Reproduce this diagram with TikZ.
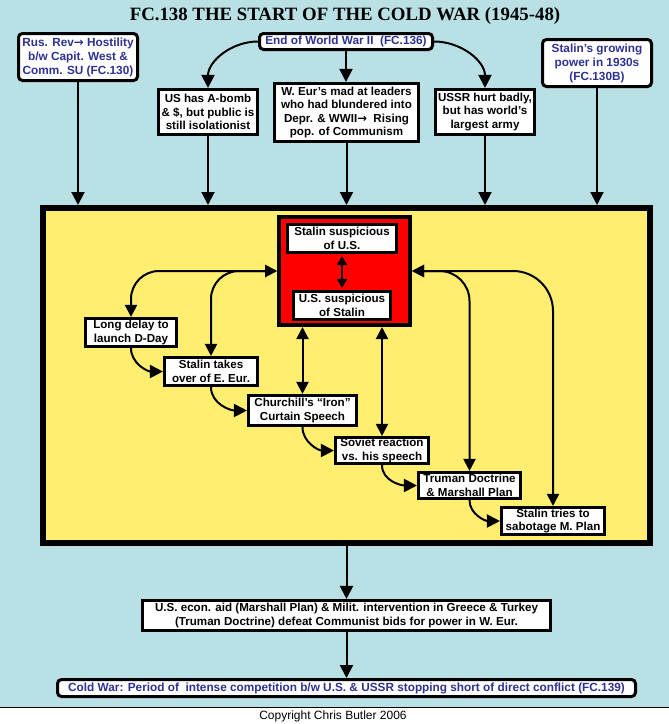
\documentclass[tikz,border=0pt]{standalone}
\usepackage{fontspec}
\setmainfont{Liberation Sans}
\newfontfamily\headfont{Liberation Serif}
\newfontfamily\symfont{DejaVu Sans}
\usetikzlibrary{arrows.meta, positioning}

\definecolor{sky}{RGB}{185,224,228}
\definecolor{sand}{RGB}{255,238,112}
\definecolor{ink}{RGB}{46,49,146}

\newcommand{\thenarrow}{{\symfont\bfseries →}}

\begin{document}
\begin{tikzpicture}[
  x=1pt,
  y=-1pt,
  fact/.style={
    draw=black,
    line width=2.6pt,
    fill=white,
    align=center,
    font=\bfseries\fontsize{11.6}{13.6}\selectfont,
    inner sep=1pt
  },
  link/.style={
    draw=black,
    line width=3pt,
    rounded corners=4pt,
    fill=white,
    text=ink,
    align=center,
    font=\bfseries\fontsize{11.8}{14}\selectfont,
    inner sep=1pt
  },
  arrow/.style={
    -{Triangle[length=13pt,width=13pt]},
    line width=2pt
  },
  both/.style={
    {Triangle[length=12pt,width=12pt]}-{Triangle[length=12pt,width=12pt]},
    line width=2pt
  }
]
\useasboundingbox (0,0) rectangle (669,724);
\fill[sky] (0,0) rectangle (669,707);
\draw[line width=1pt] (0,707) -- (669,707);

% ------------------------------------------------
% Title and causes
% ------------------------------------------------
\node[font=\headfont\bfseries\fontsize{18.8}{20}\selectfont] (title) at (345,16)
{FC.138 THE START OF THE COLD WAR (1945-48)};

\node[link, minimum width=119pt, minimum height=47pt] (rusrev) at (78,57)
{Rus. Rev\thenarrow{} Hostility\\b/w Capit. West \&\\Comm. SU (FC.130)};

\node[link, minimum width=173pt, minimum height=16pt] (wwii) at (346,41.5)
{End of World War II\ \ (FC.136)};

\node[link, minimum width=109pt, minimum height=47pt] (growing) at (597,63)
{Stalin’s growing\\power in 1930s\\(FC.130B)};

\node[fact, minimum width=98.5pt, minimum height=45.5pt] (abomb) at (208,112)
{US has A-bomb\\\& \$, but public is\\still isolationist};

\node[fact, minimum width=144.5pt, minimum height=58.5pt] (weur) at (346.5,112.5)
{W. Eur’s mad at leaders\\who had blundered into\\Depr. \& WWII\thenarrow\ \ Rising\\pop. of Communism};

\node[fact, minimum width=98.5pt, minimum height=45.5pt] (ussr) at (485,112)
{USSR hurt badly,\\but has world’s\\largest army};

\draw[arrow] (wwii.west) to[out=180, in=90] (abomb.north);
\draw[arrow] (wwii.south) -- (wwii.south |- weur.north);
\draw[arrow] (wwii.east) to[out=0, in=90] (ussr.north);

% ------------------------------------------------
% Mutual suspicion
% ------------------------------------------------
\node[draw, line width=6pt, fill=sand, minimum width=607pt, minimum height=335pt] (arena) at (346.5,375.5) {};

\foreach \src in {rusrev, abomb, weur, ussr, growing}
  \draw[arrow] (\src.south) -- (\src.south |- arena.north);

\node[draw, line width=4pt, fill=red, minimum width=131pt, minimum height=108pt] (suspicion) at (344.5,271) {};

\node[fact, minimum width=109.5pt, minimum height=28.5pt] (stalinsus) at (342,238.5)
{Stalin suspicious\\of U.S.};

\node[fact, minimum width=97.5pt, minimum height=28.5pt] (ussus) at (342,305.5)
{U.S. suspicious\\of Stalin};

\draw[{Triangle[length=9pt,width=10pt]}-{Triangle[length=9pt,width=10pt]}, line width=2pt, shorten <=2pt, shorten >=2pt]
  (stalinsus) -- (ussus);

\node[fact, minimum width=91.5pt, minimum height=28.5pt] (delay) at (131,332.5)
{Long delay to\\launch D-Day};

\node[fact, minimum width=93.5pt, minimum height=28.5pt] (takeover) at (211,371.5)
{Stalin takes\\over of E. Eur.};

\node[fact, minimum width=108.5pt, minimum height=30.5pt] (ironcurtain) at (302.5,410.5)
{Churchill’s “Iron”\\Curtain Speech};

\node[fact, minimum width=93.5pt, minimum height=26.5pt] (reaction) at (382,450.5)
{Soviet reaction\\vs. his speech};

\node[fact, minimum width=102.5pt, minimum height=26.5pt] (truman) at (469.5,485.5)
{Truman Doctrine\\\& Marshall Plan};

\node[fact, minimum width=103.5pt, minimum height=27.5pt] (sabotage) at (553,521)
{Stalin tries to\\sabotage M. Plan};

% each event leads to the next one
\foreach \a/\b in {delay/takeover, takeover/ironcurtain, ironcurtain/reaction, reaction/truman, truman/sabotage}
  \draw[arrow] (\a.south) to[out=-90, in=180] (\b.west);

% events feed the suspicion both ways
\draw[both, rounded corners=28pt] (delay.north) |- (suspicion.west);
\draw[both, rounded corners=28pt] (takeover.north) |- (suspicion.west);
\draw[both, rounded corners=30pt] (truman.north) |- (suspicion.east);
\draw[both, rounded corners=40pt] (sabotage.north) |- (suspicion.east);
\draw[both] (ironcurtain.north) -- (ironcurtain.north |- suspicion.south);
\draw[both] (reaction.north) -- (reaction.north |- suspicion.south);

% ------------------------------------------------
% Outcome
% ------------------------------------------------
\node[fact, minimum width=408.5pt, minimum height=30.5pt] (outcome) at (346.5,615.5)
{U.S. econ. aid (Marshall Plan) \& Milit. intervention in Greece \& Turkey\\(Truman Doctrine) defeat Communist bids for power in W. Eur.};

\node[link, minimum width=578pt, minimum height=17pt] (coldwar) at (346.5,688)
{Cold War: Period of\ \ intense competition b/w U.S. \& USSR stopping short of direct conflict (FC.139)};

\draw[arrow] (arena.south) -- (outcome.north);
\draw[arrow] (outcome.south) -- (coldwar.north);

\node[font=\fontsize{12}{13}\selectfont] (copyright) at (333,716)
{Copyright Chris Butler 2006};

\end{tikzpicture}
\end{document}
